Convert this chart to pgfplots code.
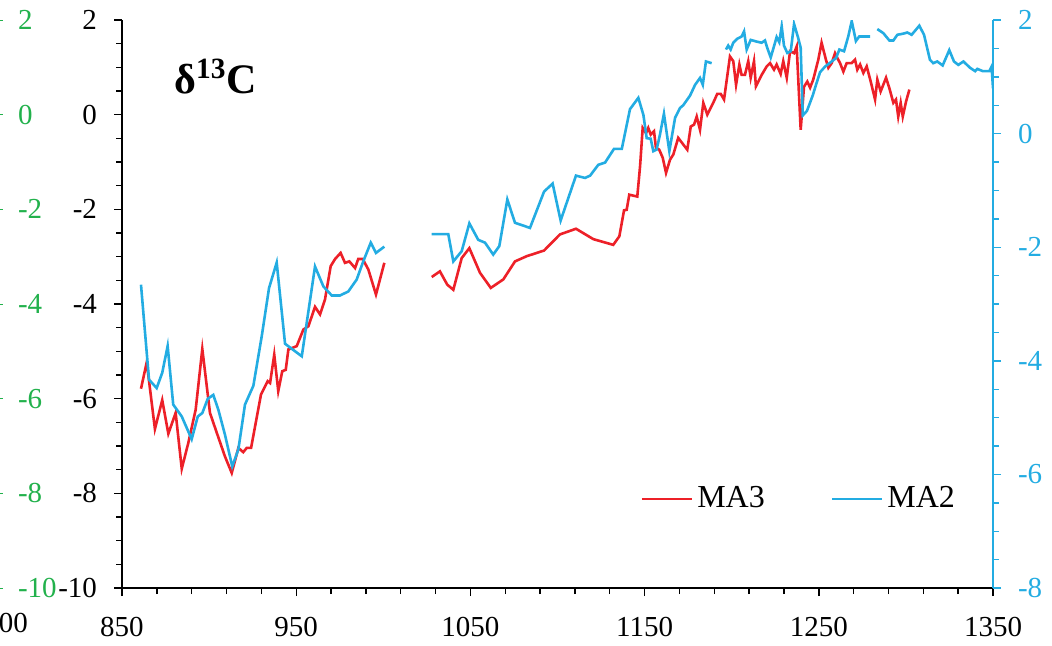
\documentclass[border=0pt]{standalone}
\usepackage{pgfplots}
\pgfplotsset{compat=1.18}
\usepackage{fontspec}
\setmainfont{Liberation Serif}
\definecolor{cred}{RGB}{237,32,40}
\definecolor{cblue}{RGB}{35,172,226}
\definecolor{cgreen}{RGB}{34,177,76}
\newcommand{\tickfont}{\fontsize{14.5}{16}\selectfont}
\begin{document}
\begin{tikzpicture}
\useasboundingbox (0,0) rectangle (526pt,322.5pt);
\clip (0,0) rectangle (526pt,322.5pt);
% neighbouring (cropped) panel: green right axis
\begin{axis}[
  at={(-0.5pt,28.5pt)}, anchor=south east,
  width=200pt, height=284pt, scale only axis,
  xmin=0, xmax=1, ymin=-10, ymax=2,
  axis y line*=right, axis x line*=bottom,
  ytick={-10,-8,...,2}, xtick={1}, xticklabels={1300},
  tick align=outside, major tick length=2pt,
  y axis line style={cgreen}, ytick style={cgreen},
  yticklabel style={cgreen, font=\tickfont, anchor=west, xshift=4pt},
  xticklabel style={black, font=\tickfont, yshift=-7pt},
  /pgf/number format/assume math mode=true,
]
\addplot[draw=none] coordinates {(0,0)};
\end{axis}
% main axis (MA3, left scale)
\begin{axis}[
  at={(61pt,28.5pt)}, anchor=south west,
  width=435.5pt, height=284pt, scale only axis,
  xmin=850, xmax=1350, ymin=-10, ymax=2,
  axis x line*=bottom, axis y line*=left,
  axis line style={black, line width=0.8pt},
  xtick={850,950,...,1350}, minor x tick num=4,
  ytick={-10,-8,...,2}, minor y tick num=3,
  tick align=outside, major tick length=4pt, minor tick length=3pt,
  tick style={black, line width=0.7pt},
  ticklabel style={font=\tickfont},
  yticklabel style={xshift=-5pt},
  xticklabel style={yshift=-7pt},
  /pgf/number format/assume math mode=true,
  /pgf/number format/1000 sep={},
  clip=false,
]
\node[anchor=base west, font=\fontsize{21}{24}\selectfont\bfseries] at (rel axis cs:0.052,0.87) {δ\textsuperscript{13}C};
\addplot[cred, line width=1.3pt] coordinates {
(860.9,-5.79) (864.2,-5.23) (868.9,-6.64) (873.1,-6.03) (876.6,-6.74) (880.8,-6.30)
(884.3,-7.48) (888.1,-6.93) (892.3,-6.23) (896.1,-4.95) (900.5,-6.30) (904.4,-6.72)
(909.1,-7.22) (913.0,-7.57) (916.8,-7.04) (919.6,-7.13) (921.6,-7.04) (924.1,-7.04)
(929.8,-5.91) (933.6,-5.63) (935.0,-5.67) (937.4,-5.07) (939.7,-5.84) (942.0,-5.42)
(944.0,-5.39) (945.5,-4.96) (950.3,-4.89) (954.1,-4.54) (957.0,-4.47) (960.8,-4.06)
(963.7,-4.22) (966.5,-3.91) (969.8,-3.20) (972.3,-3.05) (975.5,-2.92) (978.0,-3.13)
(980.5,-3.10) (983.8,-3.24) (985.6,-3.05) (988.2,-3.05) (991.4,-3.27) (995.8,-3.80)
(1000.6,-3.13)
};
\addplot[cred, line width=1.3pt] coordinates {
(1027.8,-3.43) (1032.5,-3.31) (1036.7,-3.59) (1040.2,-3.70) (1045.0,-3.03) (1049.4,-2.82)
(1055.5,-3.34) (1061.7,-3.66) (1068.9,-3.48) (1075.6,-3.10) (1082.3,-2.99) (1092.3,-2.87)
(1101.4,-2.53) (1110.6,-2.41) (1120.6,-2.63) (1132.0,-2.75) (1135.5,-2.57) (1138.2,-2.02)
(1139.7,-2.01) (1141.2,-1.69) (1145.8,-1.73) (1147.4,-1.09) (1148.9,-0.28) (1150.8,-0.39)
(1152.1,-0.28) (1153.5,-0.42) (1155.4,-0.35) (1156.5,-0.70) (1158.4,-0.74) (1160.4,-0.91)
(1162.3,-1.23) (1164.6,-0.95) (1166.5,-0.84) (1169.3,-0.49) (1172.2,-0.63) (1174.5,-0.74)
(1176.5,-0.25) (1178.4,-0.21) (1179.9,-0.04) (1181.8,-0.32) (1183.7,0.25) (1186.0,0.00)
(1187.5,0.11) (1189.4,0.25) (1191.7,0.44) (1193.7,0.44) (1195.6,0.32) (1199.0,1.23)
(1200.9,1.13) (1202.5,0.63) (1204.4,1.06) (1205.7,0.84) (1207.6,0.84) (1209.5,1.13)
(1210.9,0.78) (1212.8,1.13) (1213.9,0.60) (1217.2,0.84) (1220.1,1.02) (1222.0,1.09)
(1224.3,0.95) (1225.8,1.06) (1228.1,0.86) (1229.6,1.13) (1231.6,0.78) (1233.5,1.34)
(1235.8,1.30) (1237.3,1.44) (1239.6,-0.32) (1241.5,0.59) (1243.4,0.70) (1245.0,0.57)
(1246.8,0.74) (1249.7,1.16) (1251.6,1.52) (1254.1,1.16) (1255.5,0.99) (1257.4,1.09)
(1259.3,1.30) (1260.6,1.20) (1262.2,1.09) (1264.1,0.91) (1266.0,1.09) (1268.9,1.09)
(1270.8,1.16) (1272.1,0.95) (1273.7,1.06) (1275.6,0.88) (1277.5,1.02) (1279.8,0.70)
(1282.3,0.32) (1283.6,0.74) (1285.5,0.49) (1288.6,0.78) (1290.5,0.56) (1292.8,0.25)
(1294.3,0.32) (1295.6,-0.04) (1297.0,0.25) (1298.2,-0.04) (1300.1,0.28) (1302.0,0.53)
};
\end{axis}
% second axis (MA2, right scale)
\begin{axis}[
  at={(61pt,28.5pt)}, anchor=south west,
  width=435.5pt, height=284pt, scale only axis,
  xmin=850, xmax=1350, ymin=-8, ymax=2,
  hide x axis, axis y line*=right,
  y axis line style={cblue, line width=0.8pt},
  ytick={-8,-6,...,2}, minor y tick num=3,
  tick align=outside, major tick length=4pt, minor tick length=3pt,
  ytick style={cblue, line width=0.7pt},
  yticklabel style={cblue, font=\tickfont, xshift=5pt},
  /pgf/number format/assume math mode=true,
  legend style={at={(0.595,0.157)}, anchor=west, draw=none, fill=none,
    font=\fontsize{16}{18}\selectfont, inner sep=0pt,
    /tikz/every even column/.append style={column sep=31pt}},
  legend columns=2,
  legend image code/.code={\draw[#1] (0pt,0pt) -- (25pt,0pt);},
]
\addlegendimage{cred, line width=1.3pt}
\addlegendentry{MA3}
\addplot[cblue, line width=1.3pt] coordinates {
(860.9,-2.66) (865.5,-4.33) (869.9,-4.48) (873.1,-4.21) (876.2,-3.74) (879.4,-4.77)
(884.3,-4.98) (890.0,-5.38) (893.5,-4.98) (896.1,-4.92) (899.2,-4.67) (902.4,-4.60)
(905.3,-4.86) (909.1,-5.30) (913.3,-5.86) (916.8,-5.56) (920.6,-4.77) (925.4,-4.44)
(930.2,-3.57) (934.4,-2.72) (938.8,-2.27) (943.6,-3.70) (953.2,-3.92) (960.8,-2.34)
(965.6,-2.69) (970.4,-2.85) (975.1,-2.85) (979.9,-2.78) (984.7,-2.57) (988.5,-2.25)
(992.8,-1.92) (995.8,-2.10) (1000.6,-1.99)
};
\addlegendentry{MA2}
\addplot[cblue, line width=1.3pt, forget plot] coordinates {
(1027.8,-1.77) (1037.3,-1.77) (1040.2,-2.25) (1045.0,-2.07) (1049.4,-1.58) (1054.5,-1.87)
(1058.4,-1.92) (1063.1,-2.13) (1066.6,-1.98) (1071.2,-1.16) (1075.6,-1.57) (1084.2,-1.66)
(1092.3,-1.02) (1097.2,-0.88) (1101.8,-1.53) (1110.6,-0.74) (1115.8,-0.78) (1118.7,-0.74)
(1123.4,-0.55) (1127.3,-0.51) (1132.4,-0.27) (1136.9,-0.27) (1141.6,0.43) (1146.4,0.63)
(1149.3,0.33) (1151.2,-0.08) (1153.5,-0.09) (1155.0,-0.31) (1156.9,-0.28) (1158.8,-0.02)
(1161.1,0.35) (1164.2,-0.31) (1167.5,0.28) (1170.3,0.45) (1172.2,0.50) (1176.1,0.67)
(1179.0,0.86) (1181.8,0.98) (1183.4,0.86) (1185.2,1.27) (1188.5,1.24)
};
\addplot[cblue, line width=1.3pt, forget plot] coordinates {
(1196.7,1.48) (1198.0,1.55) (1199.4,1.48) (1200.9,1.60) (1203.2,1.67) (1205.7,1.71)
(1207.1,1.80) (1208.6,1.48) (1210.9,1.65) (1214.3,1.62) (1217.2,1.60) (1219.1,1.64)
(1220.4,1.51) (1222.4,1.34) (1224.3,1.54) (1225.8,1.70) (1227.3,1.61) (1228.7,1.89)
(1230.0,1.55) (1231.9,1.42) (1233.9,1.45) (1235.8,1.93) (1238.2,1.68) (1239.6,1.51)
(1240.8,0.32) (1243.2,0.40) (1246.5,0.67) (1248.4,0.86) (1250.7,1.08) (1253.6,1.18)
(1257.4,1.27) (1259.9,1.33) (1261.8,1.48) (1264.5,1.45) (1266.9,1.71) (1268.9,1.98)
(1271.3,1.63) (1273.2,1.71) (1279.4,1.71)
};
\addplot[cblue, line width=1.3pt, forget plot] coordinates {
(1283.6,1.84) (1287.0,1.77) (1290.5,1.64) (1292.8,1.64) (1295.1,1.74) (1298.5,1.76)
(1300.8,1.78) (1303.3,1.74) (1307.7,1.90) (1310.4,1.74) (1313.8,1.30) (1315.7,1.24)
(1318.0,1.27) (1321.1,1.20) (1324.9,1.47) (1327.6,1.27) (1330.1,1.21) (1333.0,1.27)
(1336.8,1.16) (1339.7,1.10) (1341.0,1.14) (1344.1,1.10) (1347.9,1.10) (1349.2,1.18)
(1350,0.80)
};
\end{axis}
\end{tikzpicture}
\end{document}
